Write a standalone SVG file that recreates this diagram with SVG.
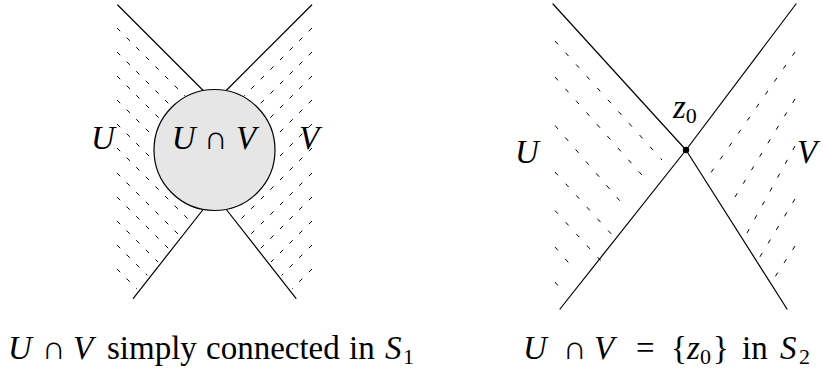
<svg xmlns="http://www.w3.org/2000/svg" width="823" height="373" viewBox="0 0 823 373">
<style>
.bd{stroke:#000;stroke-width:1.2;fill:none;stroke-linecap:round}
.h1{stroke:#000;stroke-width:1;fill:none;stroke-dasharray:4.5 9.1}
.h2{stroke:#000;stroke-width:1;fill:none;stroke-dasharray:4.5 11.3}
.t{font-family:"Liberation Serif","DejaVu Serif",serif;font-size:33px;fill:#000}
.c{font-family:"Liberation Serif","DejaVu Serif",serif;font-size:33px;fill:#000}
.i{font-style:italic}
.s{font-size:22px}
</style>
<defs>
<clipPath id="cUL"><polygon points="100,0 214.5,0 214.5,191 131,296 100,296"/></clipPath>
<clipPath id="cVL"><polygon points="330,0 214.5,0 214.5,191 298,296 330,296"/></clipPath>
</defs>
<g id="fig1">
<g id="hatch-U1" clip-path="url(#cUL)">
<line class="h1" x1="117" y1="28" x2="240" y2="151"/>
<line class="h1" x1="117" y1="52" x2="240" y2="175"/>
<line class="h1" x1="117" y1="76" x2="240" y2="199"/>
<line class="h1" x1="117" y1="100" x2="240" y2="223"/>
<line class="h1" x1="117" y1="124" x2="240" y2="247"/>
<line class="h1" x1="117" y1="148" x2="240" y2="271"/>
<line class="h1" x1="117" y1="173" x2="240" y2="296"/>
<line class="h1" x1="117" y1="197" x2="240" y2="320"/>
<line class="h1" x1="117" y1="221" x2="240" y2="344"/>
<line class="h1" x1="117" y1="245" x2="240" y2="368"/>
<line class="h1" x1="117" y1="269" x2="240" y2="392"/>
</g>
<g id="hatch-V1" clip-path="url(#cVL)">
<line class="h1" x1="312" y1="28" x2="189" y2="151"/>
<line class="h1" x1="312" y1="52" x2="189" y2="175"/>
<line class="h1" x1="312" y1="76" x2="189" y2="199"/>
<line class="h1" x1="312" y1="100" x2="189" y2="223"/>
<line class="h1" x1="312" y1="124" x2="189" y2="247"/>
<line class="h1" x1="312" y1="148" x2="189" y2="271"/>
<line class="h1" x1="312" y1="173" x2="189" y2="296"/>
<line class="h1" x1="312" y1="197" x2="189" y2="320"/>
<line class="h1" x1="312" y1="221" x2="189" y2="344"/>
<line class="h1" x1="312" y1="245" x2="189" y2="368"/>
<line class="h1" x1="312" y1="269" x2="189" y2="392"/>
</g>
<g id="bounds1">
<line class="bd" x1="117.7" y1="5" x2="202.7" y2="90"/>
<line class="bd" x1="311.7" y1="5" x2="226.7" y2="90"/>
<line class="bd" x1="202.7" y1="210" x2="133.3" y2="298.3"/>
<line class="bd" x1="226.7" y1="210" x2="296" y2="298.3"/>
</g>
<g id="UcapV1">
<circle cx="214.5" cy="150" r="60.5" fill="#e6e6e6" stroke="#000" stroke-width="1.2"/>
<text class="t" x="214" y="149" text-anchor="middle"><tspan class="i">U</tspan> ∩ <tspan class="i">V</tspan></text>
</g>
<text id="U1" class="t i" x="91" y="149">U</text>
<text id="V1" class="t i" x="299" y="149">V</text>
</g>
<g id="fig2">
<g id="hatch-U2">
<line class="h2" x1="555" y1="41" x2="662" y2="160"/>
<line class="h2" x1="555" y1="77" x2="649" y2="183"/>
<line class="h2" x1="555" y1="125.5" x2="626" y2="208"/>
<line class="h2" x1="555" y1="172" x2="614" y2="237"/>
<line class="h2" x1="555" y1="210.5" x2="601" y2="261"/>
<line class="h2" x1="555" y1="247" x2="574" y2="269"/>
<line class="h2" x1="555" y1="282" x2="564" y2="293"/>
</g>
<g id="hatch-V2">
<line class="h2" x1="795" y1="52" x2="710" y2="174"/>
<line class="h2" x1="795" y1="99" x2="735" y2="197"/>
<line class="h2" x1="795" y1="146" x2="747" y2="233"/>
<line class="h2" x1="795" y1="199" x2="758" y2="260"/>
<line class="h2" x1="795" y1="246" x2="773" y2="280"/>
</g>
<g id="bounds2">
<line class="bd" x1="553" y1="4" x2="686" y2="150"/>
<line class="bd" x1="796" y1="4" x2="686" y2="150"/>
<line class="bd" x1="686" y1="150" x2="560" y2="309"/>
<line class="bd" x1="686" y1="150" x2="787" y2="309"/>
</g>
<g id="z0">
<circle cx="686" cy="150" r="3.2" fill="#000"/>
<text class="t" x="673" y="118"><tspan class="i">z</tspan><tspan class="s" dy="5">0</tspan></text>
</g>
<text id="U2" class="t i" x="515" y="163">U</text>
<text id="V2" class="t i" x="797" y="163">V</text>
</g>
<g id="captions">
<text class="c" y="359"><tspan class="i" x="8">U</tspan><tspan x="42">∩</tspan><tspan class="i" x="73">V</tspan><tspan x="107">simply</tspan><tspan x="206">connected</tspan><tspan x="349">in</tspan><tspan class="i" x="385">S</tspan><tspan class="s" x="403" dy="5">1</tspan></text>
<text class="c" y="359"><tspan class="i" x="523">U</tspan><tspan x="563">∩</tspan><tspan class="i" x="594">V</tspan><tspan x="636">=</tspan><tspan x="671">{</tspan><tspan class="i" x="687">z</tspan><tspan class="s" x="700" dy="5">0</tspan><tspan x="713" dy="-5">}</tspan><tspan x="742">in</tspan><tspan class="i" x="780">S</tspan><tspan class="s" x="799" dy="5">2</tspan></text>
</g>
</svg>
